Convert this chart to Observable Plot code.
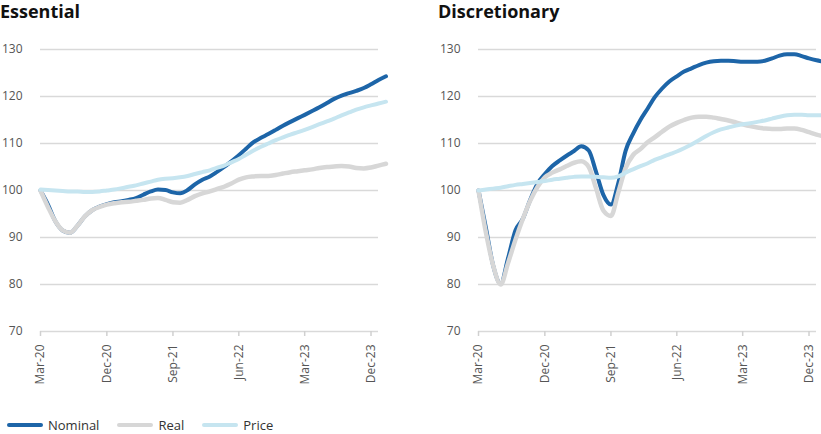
<!DOCTYPE html>
<html><head><meta charset="utf-8">
<script src="https://cdn.jsdelivr.net/npm/d3@7"></script>
<script src="https://cdn.jsdelivr.net/npm/@observablehq/plot@0.6"></script>
<style>
html,body{margin:0;padding:0;background:#fff;width:821px;height:434px;overflow:hidden;}
#root{position:relative;width:821px;height:434px;font-family:"Open Sans",sans-serif;overflow:hidden;}
.panel{position:absolute;top:0;width:410px;}
.title{font-weight:700;font-size:18px;color:#111;height:30px;line-height:22px;white-space:nowrap;padding-top:0;}
#legend{position:absolute;left:7px;top:415px;display:flex;align-items:center;font-size:13px;color:#333;line-height:20px;}
.item{display:flex;align-items:center;margin-right:18px;}
.sw{display:inline-block;width:36px;height:4px;border-radius:2px;margin-right:5px;}
</style></head>
<body><div id="root">
<div class="panel" id="p1" style="left:0"></div>
<div class="panel" id="p2" style="left:438px"></div>
<div id="legend"></div>
</div>
<script>
const months = ["2020-03","2020-04","2020-05","2020-06","2020-07","2020-08","2020-09","2020-10","2020-11","2020-12",
"2021-01","2021-02","2021-03","2021-04","2021-05","2021-06","2021-07","2021-08","2021-09","2021-10","2021-11","2021-12",
"2022-01","2022-02","2022-03","2022-04","2022-05","2022-06","2022-07","2022-08","2022-09","2022-10","2022-11","2022-12",
"2023-01","2023-02","2023-03","2023-04","2023-05","2023-06","2023-07","2023-08","2023-09","2023-10","2023-11","2023-12",
"2024-01","2024-02"];
const panelTitles = ["Essential","Discretionary"];
const seriesNames = ["Nominal","Real","Price"];
const seriesColors = ["#1d65a8","#d7d7d7","#c6e5f0"];
const tickMonths = ["2020-03","2020-12","2021-09","2022-06","2023-03","2023-12"];
const tickLabels = ["Mar-20","Dec-20","Sep-21","Jun-22","Mar-23","Dec-23"];
const yTicks = [70,80,90,100,110,120,130];

const essentialNominal = [100,97,93.5,91.5,91,92.5,94.5,95.8,96.6,97.1,97.5,97.7,98,98.4,99.1,99.8,100.2,100.1,99.6,99.4,100.1,101.3,102.3,103,103.9,105,106.2,107.5,108.9,110.3,111.2,112,112.9,113.8,114.6,115.4,116.1,116.9,117.7,118.6,119.5,120.2,120.7,121.2,121.8,122.6,123.5,124.3];
const essentialReal = [100,96.5,93.5,91.5,91,92.5,94.5,95.8,96.5,97,97.3,97.5,97.6,97.8,98,98.3,98.4,98,97.5,97.4,98,98.8,99.4,99.8,100.3,100.8,101.5,102.3,102.8,103,103.1,103.1,103.3,103.6,103.9,104.1,104.3,104.5,104.8,105,105.1,105.2,105.1,104.8,104.7,104.9,105.3,105.7];
const essentialPrice = [100.2,100.1,100,99.9,99.8,99.8,99.7,99.7,99.8,100,100.2,100.5,100.8,101.1,101.5,101.9,102.3,102.5,102.6,102.8,103.1,103.5,103.9,104.3,104.8,105.3,106,106.7,107.6,108.5,109.3,110,110.7,111.3,111.9,112.4,112.9,113.5,114.1,114.7,115.3,116,116.6,117.2,117.7,118.1,118.5,118.9];
const discretionaryNominal = [100,92,84,80.2,85.5,91.5,94,98,101.5,103.5,105.2,106.4,107.4,108.4,109.4,108.5,104,99,97,101.5,108.5,112,115,117.5,119.8,121.7,123.2,124.3,125.3,126,126.7,127.2,127.5,127.6,127.6,127.5,127.4,127.4,127.4,127.6,128.1,128.7,129,129,128.6,128.1,127.7,127.4];
const discretionaryReal = [100,91,84,80,84.5,89.5,94,97.8,100.8,102.8,103.8,104.5,105.2,105.9,106.2,105,100.5,95.7,94.6,99.5,104.8,107.5,108.8,110.3,111.3,112.5,113.6,114.4,115,115.5,115.7,115.7,115.5,115.2,114.9,114.5,114.1,113.7,113.4,113.2,113.1,113.1,113.2,113.2,112.9,112.4,111.9,111.5];
const discretionaryPrice = [100,100.2,100.4,100.6,100.9,101.2,101.4,101.6,101.8,102,102.3,102.5,102.7,102.9,103,103,102.9,102.8,102.7,103,103.8,104.5,105.2,105.8,106.5,107.1,107.7,108.3,109,109.8,110.7,111.6,112.4,113,113.4,113.8,114.1,114.3,114.6,114.9,115.3,115.7,116,116.1,116.1,116,116,116];

const parse = d3.utcParse("%Y-%m");
const dates = months.map(parse);
const tickDates = tickMonths.map(parse);
const labelOf = new Map(tickMonths.map((m,i)=>[+parse(m), tickLabels[i]]));

function rows(values){ return values.map((v,i)=>({date: dates[i], value: v})); }

function panel(el, title, seriesValues){
  const t = document.createElement("div");
  t.className = "title"; t.textContent = title;
  el.appendChild(t);
  const plot = Plot.plot({
    width: 410, height: 361,
    marginLeft: 40, marginRight: 32, marginTop: 19, marginBottom: 60,
    style: {fontFamily: '"Open Sans", sans-serif', fontSize: "12px", background: "transparent", overflow: "visible"},
    x: {type: "utc", domain: [parse("2020-03"), parse("2024-01")], axis: null},
    y: {domain: [70,130], axis: null},
    marks: [
      Plot.ruleY(yTicks, {stroke: "#d9d9d9", strokeWidth: 1.5}),
      Plot.axisY(yTicks, {label: null, tickSize: 0, tickPadding: 18, fill: "#555", fontSize: 12}),
      Plot.axisX(tickDates, {label: null, tickSize: 5, stroke: "#d0d0d0", strokeWidth: 1.5, tickPadding: 8, tickRotate: -90, fill: "#555", fontSize: 12, tickFormat: d => labelOf.get(+d)}),
      ...seriesValues.map((vals, i) => Plot.line(rows(vals), {x: "date", y: "value", stroke: seriesColors[i], strokeWidth: i === 1 ? 4.5 : 4, curve: "monotone-x", clip: false}))
    ]
  });
  el.appendChild(plot);
}

panel(document.getElementById("p1"), panelTitles[0], [essentialNominal, essentialReal, essentialPrice]);
panel(document.getElementById("p2"), panelTitles[1], [discretionaryNominal, discretionaryReal, discretionaryPrice]);

const lg = document.getElementById("legend");
seriesNames.forEach((n,i)=>{
  const it = document.createElement("div"); it.className = "item";
  const sw = document.createElement("span"); sw.className = "sw"; sw.style.background = seriesColors[i];
  const tx = document.createElement("span"); tx.textContent = n;
  it.appendChild(sw); it.appendChild(tx); lg.appendChild(it);
});
</script>
</body></html>
